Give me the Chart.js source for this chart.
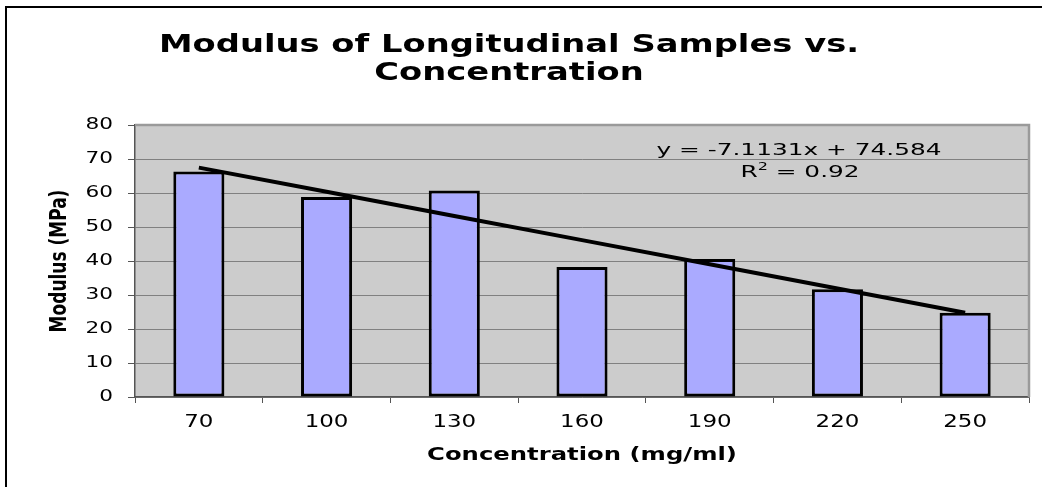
<!DOCTYPE html>
<html><head><meta charset="utf-8">
<script src="https://cdn.jsdelivr.net/npm/chart.js@4.4.1/dist/chart.umd.min.js"></script>
<style>html,body{margin:0;padding:0;background:#fff;} canvas{display:block;}</style>
</head><body>
<canvas id="c" width="1042" height="487"></canvas>
<script>
// ---- data ----
const categories = ['70', '100', '130', '160', '190', '220', '250'];
const modulusValues = [66.3, 58.8, 60.7, 38.2, 40.6, 31.7, 24.8];
const trendValues = [67.47, 60.36, 53.25, 46.13, 39.02, 31.91, 24.79];
const yTicks = [0, 10, 20, 30, 40, 50, 60, 70, 80];
const titleLines = ['Modulus of Longitudinal Samples vs.', 'Concentration'];
const xTitle = 'Concentration (mg/ml)';
const yTitle = 'Modulus (MPa)';
const equationText = 'y = -7.1131x + 74.584';
const r2Text = ['R', '2', ' = 0.92'];

const FONT = "'DejaVu Sans', Verdana, sans-serif";
const TEXT_SX = 1.35;

const canvas = document.getElementById('c');
const ctx = canvas.getContext('2d');
const protoFill = CanvasRenderingContext2D.prototype.fillText;
ctx.fillText = function (text, x, y) {
  const sx = this.__sx || TEXT_SX;
  const m = this.getTransform();
  const p = m.transformPoint(new DOMPoint(x, y));
  const s = new DOMMatrix().translate(p.x, p.y).scale(sx, 1).translate(-p.x, -p.y);
  this.setTransform(s.multiply(m));
  protoFill.call(this, text, x, y);
  this.setTransform(m);
};

const decor = {
  id: 'decor',
  beforeDraw(chart) {
    const { ctx, chartArea: a } = chart;
    ctx.save();
    ctx.fillStyle = '#ffffff';
    ctx.fillRect(0, 0, chart.width, chart.height);
    ctx.fillStyle = '#cccccc';
    ctx.fillRect(a.left, a.top, a.right - a.left, a.bottom - a.top);
    ctx.restore();
  },
  beforeDatasetsDraw(chart) {
    const { ctx, chartArea: a } = chart;
    ctx.save();
    ctx.strokeStyle = '#9a9a9a';
    ctx.lineWidth = 2.5;
    ctx.beginPath();
    ctx.moveTo(a.left, a.top);
    ctx.lineTo(a.right, a.top);
    ctx.lineTo(a.right, a.bottom);
    ctx.stroke();
    ctx.restore();
  },
  afterDraw(chart) {
    const { ctx } = chart;
    ctx.save();
    // outer border
    ctx.strokeStyle = '#000';
    ctx.lineWidth = 2;
    ctx.strokeRect(6, 7, 2000, 2000);
    // title
    ctx.fillStyle = '#000';
    ctx.font = 'bold 25px ' + FONT;
    ctx.textAlign = 'center';
    ctx.textBaseline = 'alphabetic';
    ctx.fillText(titleLines[0], 509, 52);
    ctx.fillText(titleLines[1], 509, 80);
    // trendline equation
    const eqSx = 1.6;
    ctx.__sx = eqSx;
    ctx.font = '15.5px ' + FONT;
    ctx.fillText(equationText, 799, 155);
    ctx.textAlign = 'left';
    const big = '15.5px ' + FONT, small = '10px ' + FONT;
    ctx.font = big; const w0 = ctx.measureText(r2Text[0]).width * eqSx;
    ctx.font = small; const w1 = ctx.measureText(r2Text[1]).width * eqSx;
    ctx.font = big; const w2 = ctx.measureText(r2Text[2]).width * eqSx;
    let x = 800 - (w0 + w1 + w2) / 2;
    ctx.font = big; ctx.fillText(r2Text[0], x, 176.5); x += w0;
    ctx.font = small; ctx.fillText(r2Text[1], x, 170); x += w1;
    ctx.font = big; ctx.fillText(r2Text[2], x, 176.5);
    ctx.__sx = 0;
    ctx.restore();
  }
};

new Chart(ctx, {
  data: {
    labels: categories,
    datasets: [
      {
        type: 'line',
        label: 'Linear trend',
        data: trendValues,
        borderColor: '#000',
        borderWidth: 4,
        pointRadius: 0,
        tension: 0,
        fill: false,
        order: 1
      },
      {
        type: 'bar',
        label: 'Modulus',
        data: modulusValues,
        backgroundColor: '#aaaaff',
        borderColor: '#000',
        borderWidth: 3,
        borderSkipped: false,
        barPercentage: 0.4,
        categoryPercentage: 1,
        order: 2
      }
    ]
  },
  options: {
    responsive: false,
    animation: false,
    layout: { padding: { left: 0, right: 13, top: 125, bottom: 0 } },
    plugins: { legend: { display: false }, title: { display: false }, tooltip: { enabled: false } },
    scales: {
      x: {
        type: 'category',
        offset: true,
        grid: { display: true, drawOnChartArea: false, drawTicks: true, tickLength: 6, tickColor: '#555', offset: true },
        border: { display: true, color: '#555', width: 1.5 },
        ticks: { color: '#000', font: { family: FONT, size: 17 }, padding: 9, maxRotation: 0, autoSkip: false },
        title: { display: true, text: xTitle, color: '#000', font: { family: FONT, size: 18, weight: 'bold' }, padding: { top: 0, bottom: 21 } },
        afterFit(scale) { scale.height = 90; }
      },
      y: {
        type: 'linear',
        min: 0,
        max: 80,
        afterBuildTicks(scale) { scale.ticks = yTicks.map(v => ({ value: v })); },
        ticks: { color: '#000', font: { family: FONT, size: 16 }, padding: 15 },
        grid: { color: '#808080', lineWidth: 1, tickLength: 7, tickColor: '#555', drawTicks: true },
        border: { display: true, color: '#555', width: 1.5 },
        title: { display: true, text: yTitle, color: '#000', font: { family: FONT, size: 17, weight: 'bold' }, padding: { top: 50, bottom: 0 } },
        afterFit(scale) { scale.width = 135; }
      }
    }
  },
  plugins: [decor]
});
</script>
</body></html>
